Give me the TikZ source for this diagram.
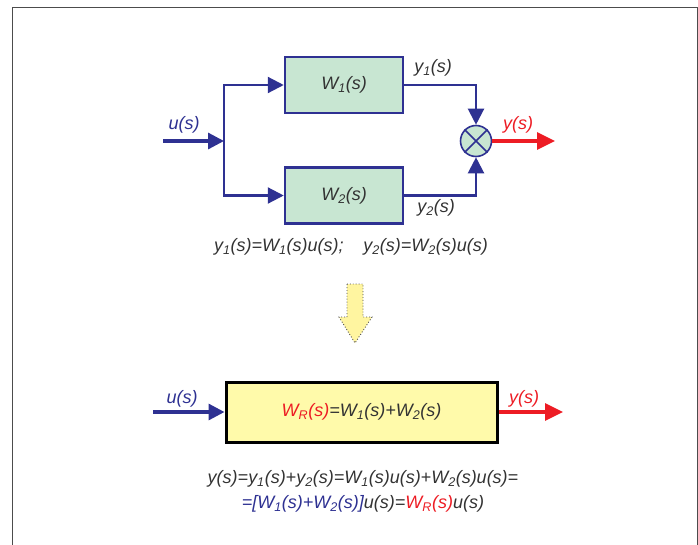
\documentclass[tikz,border=0pt]{standalone}
\usepackage{fontspec}
\setmainfont{Liberation Sans}
\usetikzlibrary{arrows.meta}
\definecolor{dblue}{HTML}{2E3192}
\definecolor{dred}{HTML}{ED1C24}
\definecolor{dtext}{HTML}{333333}
\definecolor{gfill}{HTML}{C8E6D2}
\definecolor{yfill}{HTML}{FFFAAA}
\definecolor{afill}{HTML}{FFF5A0}
\newcommand\sbs[1]{\textsubscript{#1}}
\tikzset{
  every node/.style={font=\itshape\fontsize{18}{21}\selectfont, text=dtext},
  tip/.style={-{Triangle[length=16pt,width=16pt]}},
  bluewire/.style={draw=dblue, line width=2.2pt, tip},
  bluein/.style={draw=dblue, line width=3.2pt, tip},
  redout/.style={draw=dred, line width=3.2pt, -{Triangle[length=18pt,width=17pt]}},
  gbox/.style={draw=dblue, line width=2.5pt, fill=gfill, minimum width=118pt, minimum height=56pt, inner sep=0pt},
  ybox/.style={draw=black, line width=3pt, fill=yfill, minimum width=271pt, minimum height=60pt, inner sep=0pt},
  sumnode/.style={circle, draw=dblue, line width=1.6pt, fill=gfill, minimum size=31pt, inner sep=0pt},
  lbl/.style={inner sep=1pt}
}
\begin{document}
\begin{tikzpicture}[x=1pt,y=-1pt]
\useasboundingbox (0,0) rectangle (698,544);
% frame
\draw[gray!60!black, line width=1pt] (12,548) -- (12,7) -- (697,7) -- (697,548);

% top diagram
\node[gbox] (W1) at (344,85) {W\sbs{1}(s)};
\node[gbox] (W2) at (344,195.5) {W\sbs{2}(s)};
\node[sumnode] (sum) at (476,141) {};
\draw[dblue, line width=1.6pt] (sum.north west) -- (sum.south east) (sum.north east) -- (sum.south west);
\coordinate (uin) at (163,141);
\coordinate (j) at (224,141);
\coordinate (yout) at (555,141);
\draw[bluein] (uin) -- (j);
\draw[bluewire] (j) |- (W1.west);
\draw[bluewire] (j) |- (W2.west);
\draw[bluewire] (W1.east) -| (sum.north);
\draw[bluewire] (W2.east) -| (sum.south);
\draw[redout] (sum.east) -- (yout);
\node[lbl, text=dblue] (lu1) at (184,125) {u(s)};
\node[lbl, text=dred] (ly1) at (518,125) {y(s)};
\node[lbl] (ly1a) at (433,68) {y\sbs{1}(s)};
\node[lbl] (ly2a) at (436,208) {y\sbs{2}(s)};
\node[lbl] (eq1) at (351,247) {y\sbs{1}(s)=W\sbs{1}(s)u(s);\hspace{1.1em}y\sbs{2}(s)=W\sbs{2}(s)u(s)};

% down arrow
\draw[gray!60!black, dotted, line width=0.9pt, fill=afill]
  (347,284) -- (363,284) -- (363,317) -- (372,317) -- (355,343) -- (339,317) -- (347,317) -- cycle;

% bottom diagram
\node[ybox] (WR) at (361.5,412) {\textcolor{dred}{W\sbs{R}(s)}=W\sbs{1}(s)+W\sbs{2}(s)};
\coordinate (uin2) at (153,412);
\coordinate (yout2) at (563,412);
\draw[bluein] (uin2) -- (WR.west);
\draw[redout] (WR.east) -- (yout2);
\node[lbl, text=dblue] (lu2) at (182,399) {u(s)};
\node[lbl, text=dred] (ly2) at (524,399) {y(s)};
\node[lbl] (eq2) at (363,479) {y(s)=y\sbs{1}(s)+y\sbs{2}(s)=W\sbs{1}(s)u(s)+W\sbs{2}(s)u(s)=};
\node[lbl] (eq3) at (363,504) {\textcolor{dblue}{=[W\sbs{1}(s)+W\sbs{2}(s)]}u(s)=\textcolor{dred}{W\sbs{R}(s)}u(s)};
\end{tikzpicture}
\end{document}
